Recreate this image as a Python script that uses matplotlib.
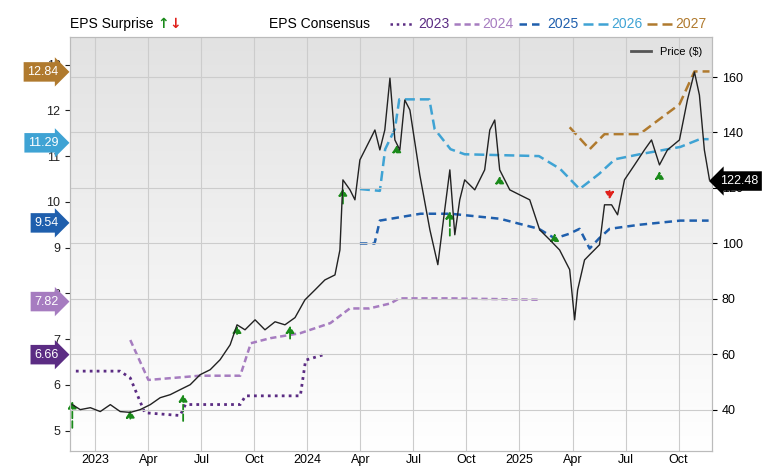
import matplotlib
matplotlib.use("Agg")
import matplotlib.pyplot as plt
import numpy as np
from matplotlib.lines import Line2D
plt.rcParams['font.family'] = ['Liberation Sans', 'DejaVu Sans']

# months since Jan 2023
price_m = [-1.3,-0.85,-0.28,0.28,0.85,1.41,1.98,2.54,3.11,3.67,4.24,4.8,5.37,5.93,6.5,7.06,7.63,8.02,8.47,9.04,9.6,10.17,10.73,11.3,11.86,12.43,12.99,13.56,13.84,14.01,14.41,14.69,14.97,15.54,15.82,16.1,16.38,16.67,16.95,17.23,17.51,17.8,18.36,18.93,19.38,19.77,20.06,20.34,20.62,20.9,21.47,22.03,22.32,22.6,22.88,23.45,24.01,24.58,25.14,25.71,26.27,26.84,27.12,27.29,27.68,27.97,28.53,28.81,29.21,29.55,29.94,30.51,31.07,31.47,31.92,32.37,33.05,33.5,33.9,34.18,34.46,34.75]
price_v = [41.8,40,40.7,39.3,41.8,39.3,39,40,41.8,44.3,45.4,47.2,49,52.6,54.4,58,63.4,70.6,68.8,72.4,68.8,71.7,70.6,73.2,79.6,83.2,86.8,88.6,97.6,122.9,119.3,115.7,130.1,137.3,140.9,133.7,140.9,159.6,137.3,133.7,151.7,148.1,124.7,104.9,92.3,112.1,126.5,103.1,115.7,122.9,119.3,126.5,140.9,144.5,126.5,119.3,117.5,115.7,104.9,101.3,97.6,90.5,72.4,83.2,94,95.9,99.5,113.9,113.9,110.3,122.9,128.3,133.7,137.3,128.3,133.7,137.3,151.7,161.8,153.5,133.7,122.9]

e2023_m = [-1.1,1.4,1.98,2.8,4.8,5.1,8.2,8.5,11.6,11.9,13.0]
e2023_v = [6.3,6.3,6.15,5.39,5.33,5.57,5.57,5.76,5.76,6.54,6.67]
e2024_m = [1.98,3.0,3.1,5.93,8.2,8.8,9.9,11.6,13.3,14.4,15.5,16.7,17.2,20.1,25.1]
e2024_v = [6.98,6.11,6.11,6.2,6.2,6.91,7.02,7.13,7.35,7.67,7.67,7.78,7.89,7.89,7.86]
e2025_m = [14.97,15.8,16.1,18.4,20.1,22.9,25.1,26.0,26.8,27.4,27.97,28.5,29.1,30.8,33.1,34.7]
e2025_v = [9.09,9.09,9.59,9.74,9.74,9.63,9.41,9.2,9.3,9.41,8.98,9.2,9.41,9.5,9.59,9.59]
e2026_m = [14.97,16.1,16.4,16.95,17.2,18.9,19.2,20.1,20.9,25.1,26.3,27.4,28.5,29.4,30.8,33.1,34.2,34.7]
e2026_v = [10.28,10.24,11.15,11.59,12.24,12.24,11.59,11.15,11.04,11.0,10.72,10.28,10.61,10.93,11.04,11.2,11.37,11.37]
e2027_m = [26.84,27.97,28.81,30.8,31.9,33.05,33.9,34.75]
e2027_v = [11.63,11.15,11.48,11.48,11.8,12.13,12.85,12.85]

# surprises: month, from EPS, to EPS, beat?
sur_m = [-1.3,1.98,4.97,8.02,11.02,14.01,17.06,20.06,22.88,25.99,29.1,31.92]
sur_from = [5.0,5.2,5.15,7.05,6.95,9.9,11.02,9.2,10.4,9.2,10.3,10.55]
sur_to = [5.7,5.5,5.85,7.35,7.35,10.35,11.3,9.85,10.62,9.3,10.0,10.72]
sur_beat = [True]*10 + [False, True]

tick_m = [0,3,6,9,12,15,18,21,24,27,30,33]
tick_lab = ["2023","Apr","Jul","Oct","2024","Apr","Jul","Oct","2025","Apr","Jul","Oct"]

fig = plt.figure(figsize=(7.8,4.7), dpi=100)
ax = fig.add_axes([0.09,0.04,0.823,0.881])
ax.set_xlim(-1.42,34.9)
ax.set_ylim(4.55,13.6)
grad = np.linspace(1,0,256).reshape(-1,1)
ax.imshow(grad, extent=[-1.42,34.9,4.55,13.6], aspect='auto', cmap=plt.cm.colors.LinearSegmentedColormap.from_list('g',['#ffffff','#e2e2e2']), zorder=0)
ax2 = ax.twinx()
ax2.set_ylim(25,174.4)
for t in tick_m:
    ax.axvline(t, color='#cccccc', lw=0.8, zorder=1)
for p in [40,60,80,100,120,140,160]:
    ax2.axhline(p, color='#cccccc', lw=0.8, zorder=1)

cols = {'2023':'#5b2c83','2024':'#a67cc0','2025':'#1f5fad','2026':'#3fa3d4','2027':'#b07a2e'}
ax.plot(e2023_m,e2023_v,color=cols['2023'],ls=(0,(1,1.5)),lw=2,zorder=3)
ax.plot(e2024_m,e2024_v,color=cols['2024'],ls=(0,(2.5,1.5)),lw=1.8,zorder=3)
ax.plot(e2025_m,e2025_v,color=cols['2025'],ls=(0,(3,2)),lw=1.8,zorder=3)
ax.plot(e2026_m,e2026_v,color=cols['2026'],ls=(0,(4,2)),lw=1.8,zorder=3)
ax.plot(e2027_m,e2027_v,color=cols['2027'],ls=(0,(4,2)),lw=1.8,zorder=3)
for m,a,b,beat in zip(sur_m,sur_from,sur_to,sur_beat):
    c = '#1a8a1a' if beat else '#e0201b'
    ax.annotate('',xy=(m,b),xytext=(m,a),arrowprops=dict(arrowstyle='-|>,head_width=0.25,head_length=0.4',color=c,lw=1.3,ls='--'),zorder=5)
ax2.plot(price_m,price_v,color='#222222',lw=1,zorder=4)
ax2.set_zorder(ax.get_zorder()+1); ax2.patch.set_visible(False)

ax.set_xticks(tick_m); ax.set_xticklabels(tick_lab,fontsize=9)
ax.set_yticks(range(5,14)); ax.tick_params(axis='y',labelsize=9,colors='#222222')
ax2.set_yticks([40,60,80,100,120,140,160]); ax2.tick_params(labelsize=9)
for a in (ax,ax2):
    for s in a.spines.values(): s.set_color('#bbbbbb')
ax.tick_params(axis='x',length=0,pad=2)

for val,col in [(12.84,cols['2027']),(11.29,cols['2026']),(9.54,cols['2025']),(7.82,cols['2024']),(6.66,cols['2023'])]:
    ax.text(-0.018,val,f"{val:.2f}",transform=ax.get_yaxis_transform(),ha='right',va='center',color='white',fontsize=9,
            bbox=dict(boxstyle='rarrow,pad=0.3',fc=col,ec='none'),zorder=10,clip_on=False)
ax2.text(1.012,122.48,"122.48",transform=ax2.get_yaxis_transform(),ha='left',va='center',color='white',fontsize=9,
         bbox=dict(boxstyle='larrow,pad=0.3',fc='black',ec='none'),clip_on=False,zorder=10)

fig.text(0.09,0.935,"EPS Surprise",fontsize=10,va='bottom')
fig.text(0.202,0.935,"↑",fontsize=10,va='bottom',color='#1a8a1a',fontweight='bold',family=['DejaVu Sans'])
fig.text(0.217,0.935,"↓",fontsize=10,va='bottom',color='#e0201b',fontweight='bold',family=['DejaVu Sans'])
fig.text(0.345,0.935,"EPS Consensus",fontsize=10,va='bottom')
x0=0.5
styles=[(0,(1,1.5)),(0,(2.5,1.5)),(0,(3,2)),(0,(4,2)),(0,(4,2))]
for (k,c),st in zip(cols.items(),styles):
    fig.add_artist(Line2D([x0,x0+0.032],[0.95,0.95],color=c,ls=st,lw=1.8))
    fig.text(x0+0.036,0.935,k,color=c,fontsize=10,va='bottom')
    x0+=0.0825
ax2.legend([Line2D([0],[0],color='#555555',lw=2)],["Price ($)"],loc='upper right',frameon=False,fontsize=8,handlelength=1.8)
fig.savefig("out.png",dpi=100)
